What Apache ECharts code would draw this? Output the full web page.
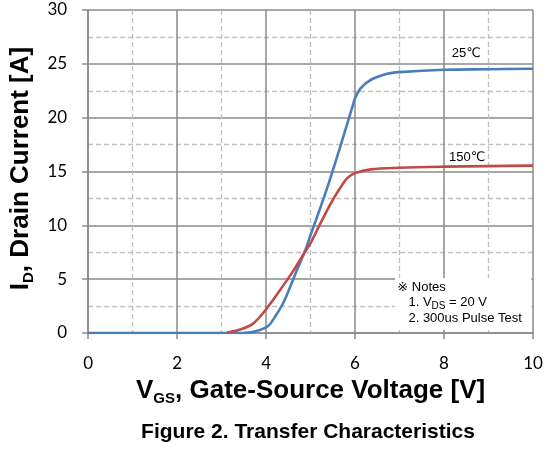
<!DOCTYPE html>
<html><head><meta charset="utf-8">
<script src="https://cdn.jsdelivr.net/npm/echarts@6/dist/echarts.min.js"></script>
<style>html,body{margin:0;padding:0;background:#fff}#c{width:554px;height:451px}</style>
</head><body><div id="c"></div>
<script>
// ---- data ----
const vgs25 = [0, 1, 2, 3, 3.5, 3.66, 3.8, 4.04, 4.2, 4.4, 4.64, 4.9, 5.0, 5.2, 5.4, 5.6, 5.8, 5.94, 6.0, 6.13, 6.35, 6.72, 7, 8, 9, 10];
const id25  = [0, 0, 0, 0, 0.01, 0.06, 0.2, 0.62, 1.5, 2.9, 5.3, 7.9, 9.1, 11.4, 13.8, 16.4, 19.1, 21.0, 21.8, 22.75, 23.5, 24.07, 24.23, 24.45, 24.5, 24.55];
const vgs150 = [3.12, 3.4, 3.7, 4.0, 4.3, 4.6, 4.9, 5.0, 5.2, 5.45, 5.64, 5.83, 6.0, 6.35, 7, 8, 9, 10];
const id150  = [0.05, 0.3, 0.85, 2.2, 3.9, 5.7, 7.7, 8.35, 10.0, 12.0, 13.3, 14.4, 14.85, 15.2, 15.35, 15.45, 15.5, 15.55];
const seriesNames = ['25℃', '150℃'];
const xRange = [0, 10], xStep = 2;
const yRange = [0, 30], yStep = 5;
const notesLines = ['※ Notes', '1. V{s|DS} = 20 V', '2. 300us Pulse Test'];
const figureTitle = 'Figure 2. Transfer Characteristics';

// ---- styles ----
const MAJOR = '#8a8a8a', MINOR = '#bfbfbf';
const BLUE = '#4a7ebb', RED = '#be4b48';
const SANS = 'Liberation Sans, Arial, DejaVu Sans, Noto Sans CJK SC';
const TICKF = 'Lato, Liberation Sans, sans-serif';

const chart = echarts.init(document.getElementById('c'), null, {renderer: 'canvas'});

function axisCommon(min, max, step) {
  return {
    type: 'value', min: min, max: max, interval: step,
    axisLine: {show: true, onZero: false, lineStyle: {color: MAJOR, width: 1.5}},
    axisTick: {show: true, inside: false, length: 6, lineStyle: {color: MAJOR, width: 1.5}},
    splitLine: {show: true, lineStyle: {color: MAJOR, width: 1.5, type: 'solid'}},
    minorTick: {show: false, splitNumber: 2},
    minorSplitLine: {show: true, lineStyle: {color: MINOR, width: 1.3, type: [5, 3]}}
  };
}

const nameRich = {
  m: {fontSize: 26, fontWeight: 'bold', fontFamily: SANS, color: '#000'},
  s: {fontSize: 15, fontWeight: 'bold', fontFamily: SANS, color: '#000', padding: [16, 0, 0, 0]}
};

chart.setOption({
  animation: false,
  backgroundColor: '#fff',
  grid: {left: 86, right: 21, top: 10, bottom: 118, containLabel: false},
  xAxis: Object.assign(axisCommon(xRange[0], xRange[1], xStep), {
    axisLabel: {fontFamily: TICKF, fontSize: 17, color: '#000', margin: 22},
    name: '{m|V}{s|GS}{m|, Gate-Source Voltage [V]}',
    nameLocation: 'middle', nameGap: 42,
    nameTextStyle: {rich: nameRich}
  }),
  yAxis: Object.assign(axisCommon(yRange[0], yRange[1], yStep), {
    axisLabel: {fontFamily: TICKF, fontSize: 17, color: '#000', margin: 21},
    name: '{m|I}{s|D}{m|, Drain Current [A]}',
    nameLocation: 'middle', nameGap: 49,
    nameTextStyle: {rich: nameRich, padding: [0, 0, 0, 6]}
  }),
  series: [
    {name: seriesNames[0], type: 'line', showSymbol: false, smooth: 0.35,
     lineStyle: {color: BLUE, width: 2.6}, itemStyle: {color: BLUE}, z: 3,
     data: vgs25.map((v, i) => [v, id25[i]])},
    {name: seriesNames[1], type: 'line', showSymbol: false, smooth: 0.35,
     lineStyle: {color: RED, width: 2.6}, itemStyle: {color: RED}, z: 3,
     data: vgs150.map((v, i) => [v, id150[i]])}
  ]
});

// annotations placed through the chart's own scales
const P = (x, y) => chart.convertToPixel({gridIndex: 0}, [x, y]);
const boxTL = P(6.9, 5.1), boxBR = P(9.96, 0.3);
const lab25 = P(8.5, 26.0), lab150 = P(8.52, 16.3);
const n1 = P(6.95, 4.25), n2 = P(7.2, 2.8), n3 = P(7.2, 1.4);
const txt = (p, text, align, extra) => Object.assign({
  type: 'text', x: p[0], y: p[1], z: 10, silent: true,
  style: {text: text, fill: '#000', font: '13px ' + SANS, textAlign: align, textVerticalAlign: 'middle',
          rich: {s: {fontSize: 10, fontFamily: SANS, fill: '#000', padding: [6, 0, 0, 0]}}}
}, extra || {});

chart.setOption({
  graphic: [
    {type: 'rect', z: 1, silent: true,
     shape: {x: boxTL[0], y: boxTL[1], width: boxBR[0] - boxTL[0], height: boxBR[1] - boxTL[1]},
     style: {fill: '#fff'}},
    txt(n1, notesLines[0], 'left'),
    txt(n2, notesLines[1], 'left'),
    txt(n3, notesLines[2], 'left'),
    txt(lab25, seriesNames[0], 'center'),
    txt(lab150, seriesNames[1], 'center'),
    {type: 'text', x: 308, y: 432, z: 10, silent: true,
     style: {text: figureTitle, fill: '#000', font: 'bold 21px ' + SANS, textAlign: 'center', textVerticalAlign: 'middle'}}
  ]
});
</script></body></html>
